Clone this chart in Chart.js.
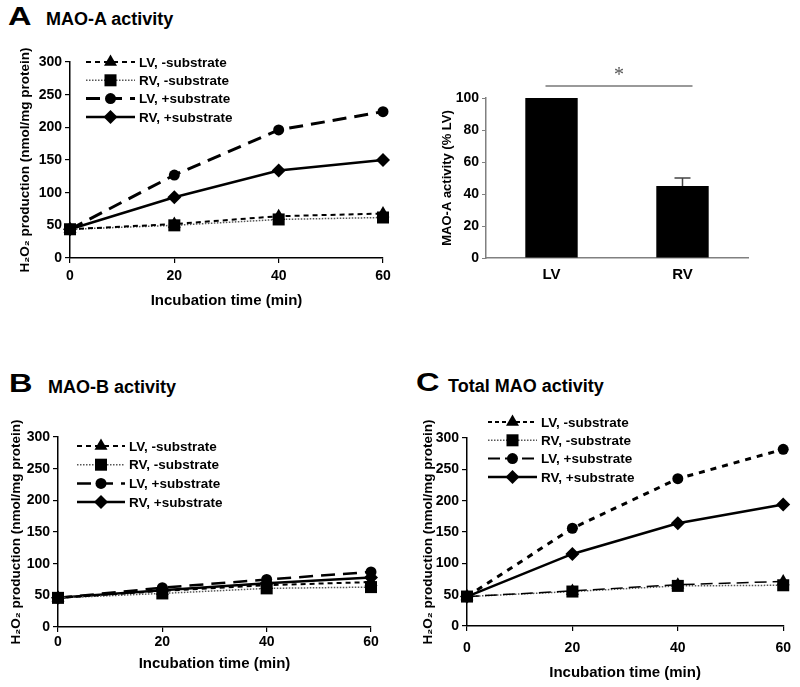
<!DOCTYPE html>
<html>
<head>
<meta charset="utf-8">
<script src="https://cdn.jsdelivr.net/npm/chart.js@4/dist/chart.umd.min.js"></script>
<style>
  body { margin: 0; background: #fff; font-family: "Liberation Sans", Arial, sans-serif; }
  #wrap { position: relative; width: 800px; height: 687px; overflow: hidden; }
  canvas { position: absolute; }
  .lbl { position: absolute; font-weight: bold; line-height: 1; color: #000; white-space: nowrap; }
  .big { font-size: 26px; transform: scaleX(1.25); transform-origin: left top; }
</style>
</head>
<body>
<div id="wrap">
  <div class="lbl big" style="left:8px;top:3px">A</div>
  <div class="lbl" style="left:46px;top:10px;font-size:18px">MAO-A activity</div>
  <div class="lbl big" style="left:9px;top:370px">B</div>
  <div class="lbl" style="left:48px;top:378px;font-size:18px">MAO-B activity</div>
  <div class="lbl big" style="left:416px;top:369px">C</div>
  <div class="lbl" style="left:448px;top:377px;font-size:18px">Total MAO activity</div>

  <canvas id="chartA" width="400" height="270" style="left:0;top:45px"></canvas>
  <canvas id="chartBar" width="340" height="245" style="left:420px;top:55px"></canvas>
  <canvas id="chartB" width="400" height="255" style="left:0;top:420px"></canvas>
  <canvas id="chartC" width="400" height="285" style="left:400px;top:400px"></canvas>
</div>

<script>
// data
let times = [0, 20, 40, 60];
let seriesNames = ["LV, -substrate", "RV, -substrate", "LV, +substrate", "RV, +substrate"];

let maoA_LVminus = [44, 52, 64, 68];
let maoA_RVminus = [44, 50, 59, 62];
let maoA_LVplus = [44, 127, 196, 224];
let maoA_RVplus = [44, 93, 134, 150];

let maoB_LVminus = [46, 57, 66, 71];
let maoB_RVminus = [46, 53, 61, 63];
let maoB_LVplus = [46, 62, 75, 87];
let maoB_RVplus = [46, 58, 69, 78];

let total_LVminus = [47, 56, 66, 71];
let total_RVminus = [47, 55, 64, 65];
let total_LVplus = [47, 156, 235, 282];
let total_RVplus = [47, 115, 164, 194];

let barLabels = ["LV", "RV"];
let barValues = [100, 45];
let barErrors = [0, 5];

const FONT = '"Liberation Sans", Arial, sans-serif';
const bold = (size) => ({ family: FONT, size: size, weight: "bold" });

// markers + line looks for the four series
function makeSets(lists, looks) {
  return lists.map((data, i) => {
    const lk = looks[i];
    return {
      label: seriesNames[i],
      data: times.map((t, j) => ({ x: t, y: data[j] })),
      borderColor: lk.color || "#000",
      borderWidth: lk.width,
      borderDash: lk.dash || [],
      pointStyle: lk.marker,
      pointRadius: lk.r,
      pointHoverRadius: lk.r,
      pointBackgroundColor: "#000",
      pointBorderWidth: 0,
      legendDash: lk.legendDash,
      legendWidth: lk.legendWidth,
      tension: 0,
      clip: false,
    };
  });
}

const looksA = [
  { dash: [5, 4], width: 2, marker: "triangle", r: 7.5 },
  { dash: [1.5, 1.5], width: 1.5, color: "#555", marker: "rect", r: 8.5 },
  { dash: [14, 8], width: 3, marker: "circle", r: 5.5 },
  { width: 2.5, marker: "rectRot", r: 7 },
];
const looksB = [
  { dash: [5, 4], width: 2, marker: "triangle", r: 7.5 },
  { dash: [1.5, 1.5], width: 1.5, color: "#555", marker: "rect", r: 8.5 },
  { dash: [14, 8], width: 2.5, marker: "circle", r: 5.5 },
  { width: 2.5, marker: "rectRot", r: 7 },
];
const looksC = [
  { dash: [12, 6], width: 1.5, marker: "triangle", r: 7.5, legendDash: [4, 3], legendWidth: 2 },
  { dash: [1.5, 1.5], width: 1.5, color: "#555", marker: "rect", r: 8.5 },
  { dash: [6, 6], width: 3, marker: "circle", r: 5.5, legendDash: [12, 5], legendWidth: 2 },
  { width: 2.5, marker: "rectRot", r: 7 },
];

// legend drawn inside the plot: line sample + marker + text
const lineLegend = {
  id: "lineLegend",
  afterDatasetsDraw(chart, args, opts) {
    const ctx = chart.ctx;
    const area = chart.chartArea;
    chart.data.datasets.forEach((ds, i) => {
      const y = area.top + opts.dy + i * opts.gap;
      const x0 = area.left + opts.dx;
      const x1 = x0 + opts.len;
      ctx.save();
      ctx.strokeStyle = ds.borderColor;
      ctx.lineWidth = ds.legendWidth || ds.borderWidth;
      ctx.setLineDash(ds.legendDash || ds.borderDash);
      ctx.beginPath();
      ctx.moveTo(x0, y);
      ctx.lineTo(x1, y);
      ctx.stroke();
      ctx.setLineDash([]);
      ctx.fillStyle = "#000";
      Chart.helpers.drawPoint(ctx, { pointStyle: ds.pointStyle, radius: ds.pointRadius, rotation: 0, borderWidth: 0 }, (x0 + x1) / 2, y);
      ctx.font = "bold 13.5px " + FONT;
      ctx.textBaseline = "middle";
      ctx.fillText(ds.label, x1 + 4, y + 1);
      ctx.restore();
    });
  },
};

function lineOptions(g) {
  const tickGrid = { display: true, drawOnChartArea: false, drawTicks: true, tickLength: 5, color: "#000", lineWidth: 1.2 };
  return {
    responsive: false,
    animation: false,
    layout: { padding: { top: g.padTop, right: g.padRight, left: 0, bottom: 0 } },
    plugins: {
      legend: { display: false },
      tooltip: { enabled: false },
      lineLegend: g.legend,
    },
    scales: {
      x: {
        type: "linear", min: 0, max: 60,
        ticks: { stepSize: 20, color: "#000", font: bold(14), padding: g.xTickPad, maxRotation: 0 },
        grid: tickGrid,
        border: { display: true, color: "#000", width: 1.5 },
        title: { display: true, text: "Incubation time (min)", color: "#000", font: bold(15), padding: { top: 0, bottom: g.xTitlePad } },
        afterFit: (s) => { s.height = g.xH; },
      },
      y: {
        min: 0, max: 300,
        ticks: { stepSize: 50, color: "#000", font: bold(14), padding: 3 },
        grid: tickGrid,
        border: { display: true, color: "#000", width: 1.5 },
        title: { display: true, text: "H₂O₂ production (nmol/mg protein)", color: "#000", font: bold(13.5), padding: { top: g.yTitlePad, bottom: 0 } },
        afterFit: (s) => { s.width = g.yW; },
      },
    },
  };
}

new Chart(document.getElementById("chartA"), {
  type: "line",
  data: { datasets: makeSets([maoA_LVminus, maoA_RVminus, maoA_LVplus, maoA_RVplus], looksA) },
  options: lineOptions({ padTop: 17, padRight: 17, yW: 70, xH: 57, yTitlePad: 17, xTickPad: 5, xTitlePad: 5,
    legend: { dx: 16, dy: 0, gap: 18.3, len: 49 } }),
  plugins: [lineLegend],
});

new Chart(document.getElementById("chartB"), {
  type: "line",
  data: { datasets: makeSets([maoB_LVminus, maoB_RVminus, maoB_LVplus, maoB_RVplus], looksB) },
  options: lineOptions({ padTop: 17, padRight: 29, yW: 58, xH: 48, yTitlePad: 8, xTickPad: 2, xTitlePad: 2,
    legend: { dx: 19, dy: 9, gap: 18.7, len: 48 } }),
  plugins: [lineLegend],
});

new Chart(document.getElementById("chartC"), {
  type: "line",
  data: { datasets: makeSets([total_LVminus, total_RVminus, total_LVplus, total_RVplus], looksC) },
  options: lineOptions({ padTop: 38, padRight: 13, yW: 67, xH: 59, yTitlePad: 20, xTickPad: 9, xTitlePad: 3,
    legend: { dx: 21, dy: -16, gap: 18.3, len: 49 } }),
  plugins: [lineLegend],
});

// error bar, significance line and asterisk for the bar panel
const barMarks = {
  id: "barMarks",
  afterDatasetsDraw(chart) {
    const ctx = chart.ctx;
    const xs = chart.scales.x;
    const ys = chart.scales.y;
    ctx.save();
    ctx.strokeStyle = "#444";
    ctx.lineWidth = 1.5;
    barErrors.forEach((e, i) => {
      if (!e) return;
      const cx = xs.getPixelForValue(i);
      const top = ys.getPixelForValue(barValues[i] + e);
      const base = ys.getPixelForValue(barValues[i]);
      ctx.beginPath();
      ctx.moveTo(cx, base);
      ctx.lineTo(cx, top);
      ctx.moveTo(cx - 8, top);
      ctx.lineTo(cx + 8, top);
      ctx.stroke();
    });
    const ly = chart.chartArea.top - 12;
    const xa = xs.getPixelForValue(0) - 6;
    const xb = xs.getPixelForValue(1) + 10;
    ctx.strokeStyle = "#777";
    ctx.beginPath();
    ctx.moveTo(xa, ly);
    ctx.lineTo(xb, ly);
    ctx.stroke();
    ctx.fillStyle = "#555";
    ctx.font = '20px "Liberation Serif", serif';
    ctx.textAlign = "center";
    ctx.textBaseline = "middle";
    ctx.fillText("*", (xa + xb) / 2, ly - 10);
    ctx.restore();
  },
};

new Chart(document.getElementById("chartBar"), {
  type: "bar",
  data: {
    labels: barLabels,
    datasets: [{ data: barValues, backgroundColor: "#000", categoryPercentage: 0.8, barPercentage: 0.5 }],
  },
  options: {
    responsive: false,
    animation: false,
    layout: { padding: { top: 43, right: 12, left: 0, bottom: 0 } },
    plugins: { legend: { display: false }, tooltip: { enabled: false } },
    scales: {
      x: {
        grid: { display: false },
        border: { display: true, color: "#808080", width: 1.5 },
        ticks: { color: "#000", font: bold(15), padding: 0 },
        afterFit: (s) => { s.height = 42; },
      },
      y: {
        min: 0, max: 100,
        ticks: { stepSize: 10, color: "#000", font: bold(14), padding: 3, callback: (v) => (v % 20 === 0 ? v : "") },
        grid: { display: true, drawOnChartArea: false, drawTicks: true, tickLength: 4, color: "#808080" },
        border: { display: true, color: "#808080", width: 1.5 },
        title: { display: true, text: "MAO-A activity (% LV)", color: "#000", font: bold(13), padding: { top: 20, bottom: 0 } },
        afterFit: (s) => { s.width = 66; },
      },
    },
  },
  plugins: [barMarks],
});
</script>
</body>
</html>
